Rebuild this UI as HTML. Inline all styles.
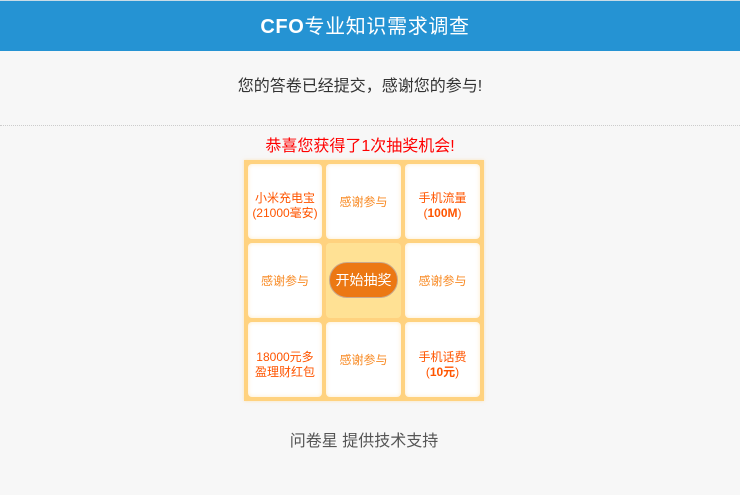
<!DOCTYPE html>
<html>
<head>
<meta charset="utf-8">
<style>
html,body{margin:0;padding:0;width:740px;height:495px;overflow:hidden;background:#f7f7f7;font-family:"Liberation Sans","WenQuanYi Zen Hei","Noto Sans CJK SC",sans-serif;}
.a{position:absolute;white-space:nowrap;}
.hd{left:0;top:1px;width:740px;height:50px;background:#2593d3;}
.topline{left:0;top:0;width:740px;height:1px;background:#c8dbe6;}
.t{left:0;width:740px;text-align:center;}
.cell{position:absolute;box-sizing:border-box;background:#fff;border-radius:4px;box-shadow:inset 0 0 4px rgba(255,210,130,.45);display:flex;align-items:center;justify-content:center;text-align:center;font-size:12px;line-height:15px;color:#ff5500;padding-top:8px;}
.cell.o{color:#f88a24;padding-top:2px;}
.cell.r3{padding-top:10px;}
.cell b{font-weight:bold;}
</style>
</head>
<body>
<div class="a topline"></div>
<div class="a hd"></div>
<div class="a t" style="top:15px;font-size:20px;line-height:24px;font-weight:bold;color:#fff;left:-5px;letter-spacing:.65px;">CFO<span style="font-weight:normal">专业知识需求调查</span></div>
<div class="a t" style="top:77px;font-size:16px;line-height:20px;color:#333;left:-10px;">您的答卷已经提交，感谢您的参与!</div>
<div class="a" style="left:0;top:125px;width:740px;border-top:1px dotted #ccc;"></div>
<div class="a t" style="top:137px;font-size:16px;line-height:20px;color:#f00;left:-10px;">恭喜您获得了1次抽奖机会!</div>

<div class="a" style="left:244px;top:160px;width:240px;height:241px;background:#ffd27f;box-shadow:0 0 3px rgba(255,210,130,.5);"></div>

<div class="cell" style="left:248px;top:164px;width:74px;height:75px;"><span>小米充电宝<br>(21000毫安)</span></div>
<div class="cell o" style="left:326px;top:164px;width:75px;height:75px;">感谢参与</div>
<div class="cell" style="left:405px;top:164px;width:75px;height:75px;"><span>手机流量<br>(<b>100M</b>)</span></div>

<div class="cell o" style="left:248px;top:243px;width:74px;height:75px;">感谢参与</div>
<div class="cell" style="left:326px;top:243px;width:75px;height:75px;background:#ffe194;box-shadow:none;"></div>
<div class="a" style="left:329px;top:262px;width:69px;height:36px;box-sizing:border-box;border:1px solid #c9a98c;border-radius:18px;background:#ec7813;color:#fff;font-size:14px;line-height:35px;text-align:center;">开始抽奖</div>
<div class="cell o" style="left:405px;top:243px;width:75px;height:75px;">感谢参与</div>

<div class="cell r3" style="left:248px;top:322px;width:74px;height:75px;"><span>18000元多<br>盈理财红包</span></div>
<div class="cell o" style="left:326px;top:322px;width:75px;height:75px;">感谢参与</div>
<div class="cell r3" style="left:405px;top:322px;width:75px;height:75px;"><span>手机话费<br>(<b>10元</b>)</span></div>

<div class="a t" style="top:432px;font-size:16px;line-height:20px;color:#555;left:-6px;">问卷星 提供技术支持</div>
</body>
</html>
